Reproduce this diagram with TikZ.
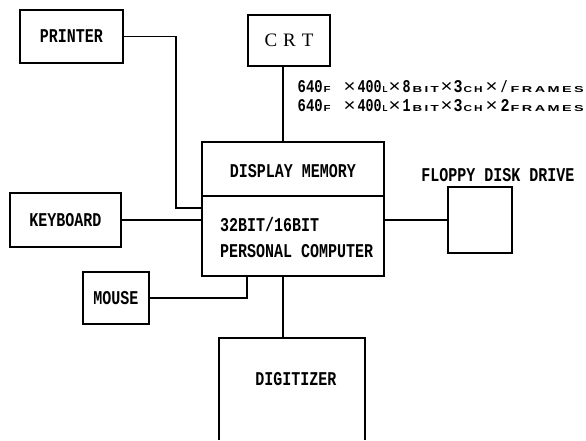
\documentclass[tikz,border=0pt]{standalone}
\usepackage{fontspec}
\usepackage{graphicx}
\newfontfamily\monob{Liberation Mono}
\newfontfamily\serifr{Liberation Serif}
\newfontfamily\sansb{Liberation Sans}
\newcommand{\lbl}[1]{\scalebox{1}[1.3]{\monob\bfseries\fontsize{15}{15}\selectfont #1}}
\newcommand{\fitd}[2]{\resizebox{#1}{12pt}{\monob\bfseries #2}}
\newcommand{\fits}[2]{\resizebox{#1}{6pt}{\sansb\bfseries #2}}
\newcommand{\fitx}{\resizebox{12pt}{10pt}{\sansb ×}}
\newcommand{\putat}[2]{\makebox[0pt][l]{\hspace{#1}#2}}
\begin{document}
\begin{tikzpicture}[x=1pt,y=-1pt,
  box/.style={draw, line width=1.2pt, inner sep=0pt},
  wire/.style={line width=1.1pt},
  lab/.style={inner sep=0pt}]
\useasboundingbox (0,0) rectangle (586,440);
% boxes
\node[box, minimum width=103pt, minimum height=53pt] (printer) at (71.5,36.5) {\lbl{PRINTER}};
\node[box, minimum width=82pt, minimum height=51pt] (crt) at (289,40.5) {\serifr\fontsize{19}{19}\selectfont C\hspace{6pt}R\hspace{6pt}T};
\node[box, minimum width=182pt, minimum height=134pt] (main) at (293,209) {};
\node[box, minimum width=111pt, minimum height=54pt] (keyboard) at (65.5,220) {\lbl{KEYBOARD}};
\node[box, minimum width=66pt, minimum height=52pt] (mouse) at (116,298) {\lbl{MOUSE}};
\node[box, minimum width=64pt, minimum height=66pt] (floppy) at (480,220) {};
\draw[wire] (219,440) -- (219,338) -- (365,338) -- (365,440);
\coordinate (digtop) at (283,338);
% divider in main box
\draw[wire] (main.west |- 0,196) -- (main.east |- 0,196);
% labels
\node[lab] (dm) at (293,171) {\lbl{DISPLAY MEMORY}};
\node[lab, anchor=west] (pc1) at (220,225) {\lbl{32BIT/16BIT}};
\node[lab, anchor=west] (pc2) at (220,251) {\lbl{PERSONAL COMPUTER}};
\node[lab] (fdl) at (498,175) {\lbl{FLOPPY DISK DRIVE}};
\node[lab] (dig) at (296,379) {\lbl{DIGITIZER}};
% formula lines
\node[lab, anchor=base west] (f1) at (297,92) {%
\putat{0pt}{\fitd{25pt}{640}}\putat{26pt}{\fits{7pt}{F}}%
\putat{46pt}{\fitx}\putat{60pt}{\fitd{24pt}{400}}\putat{85pt}{\fits{5pt}{L}}%
\putat{91pt}{\fitx}\putat{105pt}{\fitd{8pt}{8}}\putat{115pt}{\fits{26pt}{B\,I\,T}}%
\putat{143pt}{\fitx}\putat{156pt}{\fitd{9pt}{3}}\putat{166pt}{\fits{19pt}{C\,H}}%
\putat{188pt}{\fitx}\putat{203pt}{\fitd{7pt}{/}}\putat{213pt}{\fits{73pt}{F\,R\,A\,M\,E\,S}}%
\hspace{286pt}};
\node[lab, anchor=base west] (f2) at (297,111) {%
\putat{0pt}{\fitd{25pt}{640}}\putat{26pt}{\fits{7pt}{F}}%
\putat{46pt}{\fitx}\putat{60pt}{\fitd{24pt}{400}}\putat{85pt}{\fits{5pt}{L}}%
\putat{91pt}{\fitx}\putat{105pt}{\fitd{8pt}{1}}\putat{115pt}{\fits{26pt}{B\,I\,T}}%
\putat{143pt}{\fitx}\putat{156pt}{\fitd{9pt}{3}}\putat{166pt}{\fits{19pt}{C\,H}}%
\putat{188pt}{\fitx}\putat{203pt}{\fitd{9pt}{2}}\putat{213pt}{\fits{73pt}{F\,R\,A\,M\,E\,S}}%
\hspace{286pt}};
% connectors
\coordinate (pk) at (176,208);
\coordinate (bus) at (283,0);
\coordinate (mk) at (247,0);
\draw[wire] (printer.east) -| (pk) -- (pk -| main.west);
\draw[wire] (crt.south -| bus) -- (main.north -| bus);
\draw[wire] (keyboard.east) -- (keyboard.east -| main.west);
\draw[wire] (mouse.east) -| (main.south -| mk);
\draw[wire] (main.east |- floppy.west) -- (floppy.west);
\draw[wire] (main.south -| bus) -- (digtop);
\end{tikzpicture}
\end{document}
